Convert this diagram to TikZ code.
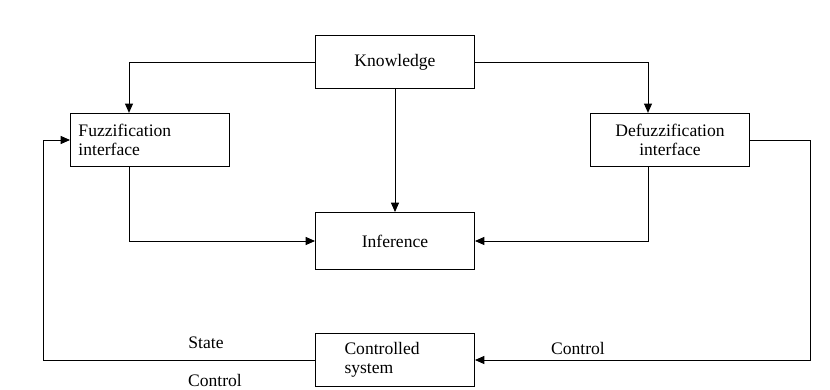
\documentclass[tikz,border=0pt]{standalone}
\usepackage{fontspec}
\setmainfont{Liberation Serif}
\usetikzlibrary{arrows.meta}

\begin{document}
\begin{tikzpicture}[x=0.03cm,y=-0.03cm,
  blk/.style={draw,line width=0.8pt,minimum width=4.77cm,minimum height=1.6cm,inner sep=0pt,fill=white},
  arr/.style={line width=0.8pt,-{Triangle[length=2.8mm,width=2.4mm]}},
  lne/.style={line width=0.8pt},
  every node/.style={font=\fontsize{15}{16}\selectfont}]

  \useasboundingbox (0,0) rectangle (830,390);

  \draw (395,62) node[blk] (know) {Knowledge};
\draw (150,140) node[blk,text width=4.29cm,inner xsep=0.24cm,align=left] (fuzz) {Fuzzification\\interface};
\draw (670,140) node[blk,align=center] (dfz) {Defuzzification\\interface};
\draw (395,241) node[blk,minimum height=1.71cm] (inf) {Inference};
\draw (395,360) node[blk,text width=3.03cm,inner xsep=0.87cm,align=left] (ctl) {Controlled\\system};

  \coordinate (lft) at (43,360);
  \coordinate (rgt) at (810,360);

  \draw[arr] (know.west) -| ([xshift=-0.63cm]fuzz.north);
  \draw[arr] (know.east) -| ([xshift=-0.66cm]dfz.north);
  \draw[arr] (know) -- (inf);
  \draw[arr] ([xshift=-0.63cm]fuzz.south) |- (inf.west);
  \draw[arr] ([xshift=-0.66cm]dfz.south) |- (inf.east);

  \draw[arr] (ctl.west) -- (lft) |- (fuzz.west);
  \draw[arr] (dfz.east) -| (rgt) -- (ctl.east);

  \draw (206,343) node (st) {State}
  (215,380) node (cin) {Control}
  (578,348) node (cout) {Control};

\end{tikzpicture}
\end{document}
